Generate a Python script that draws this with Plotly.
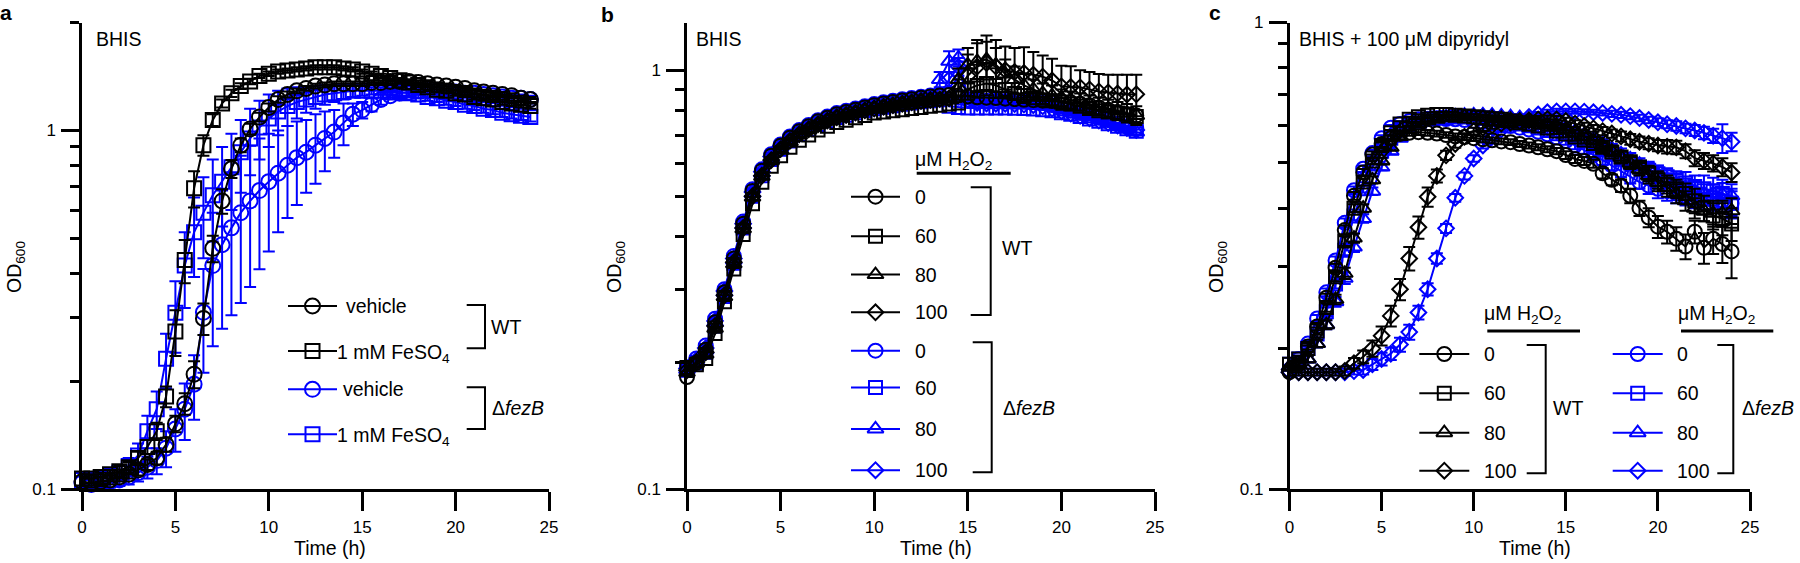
import plotly.graph_objects as go

# ---------------- data ----------------
TIME_H = [0, 0.5, 1, 1.5, 2, 2.5, 3, 3.5, 4, 4.5,
          5, 5.5, 6, 6.5, 7, 7.5, 8, 8.5, 9, 9.5,
          10, 10.5, 11, 11.5, 12, 12.5, 13, 13.5, 14, 14.5,
          15, 15.5, 16, 16.5, 17, 17.5, 18, 18.5, 19, 19.5,
          20, 20.5, 21, 21.5, 22, 22.5, 23, 23.5, 24]

X_TICKS = [0, 5, 10, 15, 20, 25]
Y_MAJOR = [0.1, 1]
Y_MAJOR_TEXT = ["0.1", "1"]

# Panel a (BHIS, FeSO4)
a_wt_veh = [0.105, 0.104, 0.105, 0.106, 0.108, 0.110, 0.113, 0.117, 0.122, 0.133,
            0.152, 0.173, 0.209, 0.299, 0.469, 0.636, 0.782, 0.910, 1.01, 1.09,
            1.16, 1.22, 1.26, 1.29, 1.31, 1.33, 1.34, 1.35, 1.35, 1.35,
            1.35, 1.36, 1.36, 1.37, 1.37, 1.37, 1.36, 1.35, 1.34, 1.33,
            1.32, 1.31, 1.29, 1.28, 1.27, 1.26, 1.25, 1.23, 1.22]
a_wt_fe = [0.107, 0.107, 0.108, 0.110, 0.112, 0.115, 0.122, 0.131, 0.145, 0.181,
           0.275, 0.435, 0.690, 0.910, 1.07, 1.19, 1.27, 1.33, 1.37, 1.42,
           1.44, 1.46, 1.47, 1.48, 1.49, 1.50, 1.50, 1.50, 1.49, 1.48,
           1.46, 1.44, 1.42, 1.40, 1.38, 1.36, 1.34, 1.32, 1.30, 1.29,
           1.27, 1.26, 1.24, 1.23, 1.22, 1.20, 1.19, 1.18, 1.17]
a_ko_veh = [0.104, 0.103, 0.104, 0.105, 0.106, 0.108, 0.111, 0.115, 0.120, 0.130,
            0.147, 0.167, 0.196, 0.311, 0.420, 0.480, 0.535, 0.590, 0.636, 0.680,
            0.720, 0.760, 0.800, 0.840, 0.870, 0.910, 0.950, 0.990, 1.05, 1.11,
            1.14, 1.18, 1.22, 1.25, 1.27, 1.28, 1.29, 1.29, 1.29, 1.28,
            1.28, 1.27, 1.27, 1.26, 1.25, 1.24, 1.23, 1.23, 1.22]
a_ko_fe = [0.106, 0.106, 0.107, 0.109, 0.111, 0.116, 0.124, 0.145, 0.167, 0.231,
           0.310, 0.420, 0.520, 0.590, 0.660, 0.720, 0.790, 0.870, 0.950, 1.02,
           1.08, 1.13, 1.17, 1.20, 1.22, 1.24, 1.26, 1.27, 1.28, 1.29,
           1.29, 1.29, 1.29, 1.29, 1.28, 1.27, 1.26, 1.24, 1.23, 1.21,
           1.20, 1.18, 1.17, 1.15, 1.14, 1.12, 1.11, 1.10, 1.09]
sd_a_wt_veh = [0.003, 0.003, 0.003, 0.003, 0.003, 0.003, 0.004, 0.004, 0.005, 0.006,
               0.008, 0.012, 0.018, 0.030, 0.040, 0.050, 0.045, 0.040, 0.035, 0.030,
               0.030, 0.025, 0.025, 0.020, 0.020, 0.020, 0.020, 0.020, 0.020, 0.020,
               0.020, 0.020, 0.020, 0.020, 0.020, 0.020, 0.020, 0.020, 0.020, 0.020,
               0.020, 0.020, 0.020, 0.020, 0.020, 0.020, 0.020, 0.020, 0.020]
sd_a_wt_fe = [0.003, 0.003, 0.003, 0.003, 0.004, 0.004, 0.005, 0.006, 0.008, 0.012,
              0.040, 0.060, 0.080, 0.060, 0.040, 0.030, 0.030, 0.025, 0.025, 0.020,
              0.020, 0.020, 0.020, 0.020, 0.020, 0.020, 0.020, 0.020, 0.020, 0.020,
              0.020, 0.020, 0.020, 0.020, 0.020, 0.020, 0.020, 0.020, 0.020, 0.020,
              0.020, 0.020, 0.020, 0.020, 0.020, 0.020, 0.020, 0.020, 0.020]
sd_a_ko_veh = [0.003, 0.003, 0.003, 0.004, 0.004, 0.005, 0.006, 0.008, 0.010, 0.015,
               0.020, 0.030, 0.040, 0.100, 0.170, 0.200, 0.230, 0.260, 0.270, 0.270,
               0.260, 0.240, 0.230, 0.220, 0.200, 0.200, 0.180, 0.150, 0.140, 0.080,
               0.060, 0.050, 0.040, 0.030, 0.030, 0.030, 0.030, 0.030, 0.030, 0.030,
               0.030, 0.030, 0.030, 0.030, 0.030, 0.030, 0.030, 0.030, 0.030]
sd_a_ko_fe = [0.003, 0.003, 0.003, 0.004, 0.005, 0.006, 0.010, 0.015, 0.020, 0.040,
              0.070, 0.100, 0.130, 0.150, 0.170, 0.180, 0.190, 0.200, 0.200, 0.190,
              0.180, 0.160, 0.140, 0.120, 0.100, 0.090, 0.080, 0.070, 0.060, 0.050,
              0.040, 0.030, 0.030, 0.030, 0.030, 0.030, 0.030, 0.030, 0.030, 0.030,
              0.030, 0.030, 0.030, 0.030, 0.030, 0.030, 0.030, 0.030, 0.030]

# Panel b (BHIS, H2O2)
b_wt0 = [0.185, 0.200, 0.215, 0.250, 0.295, 0.355, 0.430, 0.515, 0.575, 0.625,
         0.660, 0.690, 0.715, 0.735, 0.755, 0.770, 0.785, 0.795, 0.805, 0.815,
         0.825, 0.833, 0.840, 0.847, 0.853, 0.860, 0.865, 0.870, 0.873, 0.870,
         0.866, 0.862, 0.860, 0.858, 0.855, 0.853, 0.850, 0.848, 0.846, 0.844,
         0.842, 0.838, 0.832, 0.825, 0.815, 0.805, 0.795, 0.785, 0.780]
b_wt60 = [0.195, 0.198, 0.205, 0.235, 0.280, 0.335, 0.405, 0.480, 0.540, 0.590,
          0.625, 0.655, 0.680, 0.700, 0.720, 0.735, 0.750, 0.760, 0.770, 0.780,
          0.790, 0.795, 0.800, 0.805, 0.810, 0.815, 0.820, 0.825, 0.830, 0.835,
          0.900, 0.920, 0.930, 0.920, 0.900, 0.880, 0.870, 0.860, 0.850, 0.845,
          0.840, 0.830, 0.820, 0.810, 0.800, 0.795, 0.790, 0.785, 0.775]
b_wt80 = [0.190, 0.200, 0.210, 0.242, 0.288, 0.345, 0.418, 0.498, 0.558, 0.608,
          0.645, 0.675, 0.700, 0.720, 0.740, 0.755, 0.770, 0.780, 0.790, 0.800,
          0.808, 0.815, 0.822, 0.829, 0.835, 0.841, 0.846, 0.851, 0.855, 0.950,
          1.030, 1.050, 1.060, 1.030, 0.980, 0.950, 0.920, 0.900, 0.880, 0.870,
          0.860, 0.850, 0.840, 0.830, 0.820, 0.810, 0.800, 0.790, 0.780]
b_wt100 = [0.192, 0.201, 0.212, 0.245, 0.290, 0.348, 0.420, 0.500, 0.560, 0.610,
           0.648, 0.678, 0.703, 0.723, 0.743, 0.758, 0.772, 0.782, 0.792, 0.802,
           0.810, 0.818, 0.825, 0.832, 0.838, 0.844, 0.849, 0.853, 0.857, 0.900,
           0.970, 1.020, 1.040, 1.020, 1.000, 0.990, 0.985, 0.975, 0.965, 0.945,
           0.915, 0.912, 0.910, 0.900, 0.890, 0.885, 0.880, 0.875, 0.876]
b_ko0 = [0.195, 0.205, 0.220, 0.255, 0.300, 0.360, 0.435, 0.520, 0.580, 0.630,
         0.665, 0.695, 0.720, 0.740, 0.760, 0.775, 0.790, 0.800, 0.810, 0.820,
         0.830, 0.838, 0.845, 0.852, 0.858, 0.864, 0.870, 0.875, 0.878, 0.860,
         0.850, 0.848, 0.846, 0.845, 0.844, 0.843, 0.842, 0.840, 0.835, 0.825,
         0.810, 0.800, 0.790, 0.780, 0.770, 0.760, 0.745, 0.735, 0.725]
b_ko60 = [0.192, 0.200, 0.212, 0.245, 0.288, 0.346, 0.420, 0.500, 0.560, 0.612,
          0.648, 0.678, 0.702, 0.722, 0.742, 0.757, 0.771, 0.781, 0.791, 0.801,
          0.809, 0.816, 0.823, 0.829, 0.835, 0.841, 0.846, 0.850, 0.820, 0.815,
          0.812, 0.812, 0.812, 0.812, 0.812, 0.811, 0.810, 0.808, 0.805, 0.800,
          0.792, 0.785, 0.775, 0.765, 0.755, 0.745, 0.735, 0.725, 0.715]
b_ko80 = [0.193, 0.202, 0.215, 0.250, 0.295, 0.352, 0.427, 0.508, 0.568, 0.618,
          0.655, 0.685, 0.710, 0.730, 0.750, 0.765, 0.780, 0.790, 0.800, 0.810,
          0.818, 0.826, 0.833, 0.840, 0.846, 0.852, 0.858, 0.950, 1.050, 1.070,
          0.860, 0.845, 0.843, 0.842, 0.841, 0.840, 0.838, 0.835, 0.830, 0.820,
          0.805, 0.795, 0.785, 0.775, 0.763, 0.750, 0.738, 0.725, 0.712]
b_ko100 = [0.194, 0.203, 0.217, 0.252, 0.297, 0.355, 0.430, 0.512, 0.572, 0.622,
           0.658, 0.688, 0.712, 0.733, 0.753, 0.768, 0.782, 0.793, 0.803, 0.812,
           0.820, 0.828, 0.835, 0.842, 0.848, 0.854, 0.860, 0.866, 0.950, 1.020,
           0.850, 0.835, 0.833, 0.832, 0.831, 0.830, 0.828, 0.825, 0.820, 0.810,
           0.798, 0.788, 0.778, 0.768, 0.758, 0.748, 0.738, 0.728, 0.720]
sd_b_wt80 = [0.005, 0.005, 0.005, 0.006, 0.007, 0.008, 0.010, 0.010, 0.010, 0.010,
             0.010, 0.010, 0.010, 0.010, 0.010, 0.010, 0.010, 0.010, 0.010, 0.010,
             0.010, 0.010, 0.010, 0.010, 0.010, 0.010, 0.010, 0.010, 0.010, 0.060,
             0.100, 0.110, 0.110, 0.100, 0.080, 0.070, 0.060, 0.050, 0.050, 0.050,
             0.040, 0.040, 0.040, 0.040, 0.040, 0.040, 0.040, 0.040, 0.040]
sd_b_wt100 = [0.005, 0.005, 0.005, 0.006, 0.007, 0.008, 0.010, 0.010, 0.010, 0.010,
              0.010, 0.010, 0.010, 0.010, 0.010, 0.010, 0.010, 0.010, 0.010, 0.010,
              0.010, 0.010, 0.010, 0.010, 0.010, 0.010, 0.010, 0.010, 0.010, 0.050,
              0.120, 0.160, 0.170, 0.160, 0.140, 0.140, 0.150, 0.130, 0.120, 0.120,
              0.110, 0.110, 0.090, 0.090, 0.090, 0.090, 0.095, 0.100, 0.100]
sd_b_ko80 = [0.005, 0.005, 0.005, 0.006, 0.007, 0.008, 0.010, 0.010, 0.010, 0.010,
             0.010, 0.010, 0.010, 0.010, 0.010, 0.010, 0.010, 0.010, 0.010, 0.010,
             0.010, 0.010, 0.010, 0.010, 0.010, 0.010, 0.010, 0.040, 0.060, 0.050,
             0.020, 0.010, 0.010, 0.010, 0.010, 0.010, 0.010, 0.010, 0.010, 0.010,
             0.010, 0.010, 0.010, 0.010, 0.010, 0.010, 0.010, 0.010, 0.010]
sd_b_ko100 = [0.005, 0.005, 0.005, 0.006, 0.007, 0.008, 0.010, 0.010, 0.010, 0.010,
              0.010, 0.010, 0.010, 0.010, 0.010, 0.010, 0.010, 0.010, 0.010, 0.010,
              0.010, 0.010, 0.010, 0.010, 0.010, 0.010, 0.010, 0.010, 0.040, 0.050,
              0.020, 0.010, 0.010, 0.010, 0.010, 0.010, 0.010, 0.010, 0.010, 0.010,
              0.010, 0.010, 0.010, 0.010, 0.010, 0.010, 0.010, 0.010, 0.010]

# Panel c (BHIS + dipyridyl, H2O2)
c_wt0 = [0.178, 0.186, 0.202, 0.223, 0.257, 0.298, 0.359, 0.425, 0.477, 0.521,
         0.549, 0.565, 0.577, 0.580, 0.582, 0.580, 0.578, 0.574, 0.570, 0.568,
         0.565, 0.562, 0.559, 0.556, 0.554, 0.549, 0.545, 0.540, 0.535, 0.530,
         0.520, 0.510, 0.505, 0.498, 0.475, 0.460, 0.447, 0.425, 0.400, 0.382,
         0.365, 0.356, 0.344, 0.331, 0.356, 0.329, 0.344, 0.335, 0.323]
c_wt60 = [0.185, 0.190, 0.200, 0.218, 0.245, 0.285, 0.340, 0.400, 0.455, 0.505,
          0.545, 0.580, 0.606, 0.620, 0.628, 0.633, 0.635, 0.635, 0.633, 0.630,
          0.628, 0.625, 0.622, 0.620, 0.615, 0.610, 0.605, 0.600, 0.594, 0.585,
          0.577, 0.568, 0.560, 0.550, 0.540, 0.528, 0.515, 0.503, 0.490, 0.475,
          0.460, 0.450, 0.440, 0.430, 0.415, 0.400, 0.385, 0.380, 0.370]
c_wt80 = [0.183, 0.185, 0.190, 0.205, 0.225, 0.255, 0.290, 0.345, 0.400, 0.460,
          0.505, 0.540, 0.570, 0.590, 0.605, 0.615, 0.620, 0.625, 0.627, 0.628,
          0.628, 0.627, 0.625, 0.623, 0.620, 0.617, 0.613, 0.608, 0.603, 0.597,
          0.590, 0.580, 0.570, 0.558, 0.545, 0.530, 0.515, 0.500, 0.485, 0.470,
          0.455, 0.443, 0.430, 0.415, 0.400, 0.395, 0.390, 0.390, 0.395]
c_wt100 = [0.178, 0.178, 0.178, 0.178, 0.178, 0.178, 0.179, 0.186, 0.192, 0.200,
           0.213, 0.235, 0.268, 0.312, 0.364, 0.423, 0.469, 0.519, 0.549, 0.569,
           0.585, 0.595, 0.602, 0.607, 0.610, 0.614, 0.617, 0.620, 0.621, 0.620,
           0.615, 0.607, 0.600, 0.593, 0.585, 0.578, 0.570, 0.562, 0.555, 0.550,
           0.545, 0.542, 0.540, 0.530, 0.512, 0.505, 0.499, 0.490, 0.477]
c_ko0 = [0.180, 0.190, 0.205, 0.232, 0.264, 0.309, 0.372, 0.437, 0.486, 0.525,
         0.565, 0.595, 0.606, 0.615, 0.620, 0.622, 0.622, 0.621, 0.620, 0.618,
         0.615, 0.612, 0.608, 0.604, 0.600, 0.595, 0.590, 0.583, 0.576, 0.567,
         0.557, 0.545, 0.533, 0.520, 0.507, 0.494, 0.480, 0.467, 0.455, 0.447,
         0.440, 0.435, 0.430, 0.425, 0.420, 0.418, 0.415, 0.415, 0.410]
c_ko60 = [0.185, 0.190, 0.200, 0.215, 0.240, 0.275, 0.325, 0.385, 0.440, 0.490,
          0.530, 0.565, 0.590, 0.605, 0.615, 0.620, 0.624, 0.626, 0.627, 0.627,
          0.626, 0.624, 0.622, 0.619, 0.615, 0.611, 0.606, 0.600, 0.594, 0.587,
          0.578, 0.568, 0.557, 0.545, 0.533, 0.522, 0.510, 0.500, 0.490, 0.482,
          0.474, 0.467, 0.460, 0.453, 0.445, 0.440, 0.435, 0.430, 0.410]
c_ko80 = [0.183, 0.185, 0.190, 0.205, 0.225, 0.252, 0.283, 0.330, 0.380, 0.435,
          0.490, 0.530, 0.565, 0.590, 0.605, 0.615, 0.622, 0.627, 0.631, 0.633,
          0.634, 0.634, 0.633, 0.631, 0.628, 0.625, 0.621, 0.616, 0.610, 0.603,
          0.595, 0.585, 0.575, 0.563, 0.550, 0.537, 0.523, 0.510, 0.497, 0.485,
          0.473, 0.462, 0.452, 0.443, 0.435, 0.430, 0.430, 0.428, 0.425]
c_ko100 = [0.178, 0.178, 0.178, 0.178, 0.178, 0.178, 0.178, 0.179, 0.180, 0.185,
           0.190, 0.195, 0.204, 0.217, 0.239, 0.268, 0.312, 0.362, 0.421, 0.469,
           0.511, 0.545, 0.569, 0.590, 0.605, 0.617, 0.627, 0.635, 0.642, 0.645,
           0.645, 0.645, 0.644, 0.642, 0.640, 0.637, 0.634, 0.630, 0.624, 0.618,
           0.611, 0.605, 0.600, 0.593, 0.587, 0.580, 0.572, 0.565, 0.555]
sd_c_wt0 = [0.003, 0.003, 0.003, 0.004, 0.005, 0.006, 0.008, 0.008, 0.008, 0.008,
            0.008, 0.008, 0.008, 0.008, 0.008, 0.008, 0.008, 0.008, 0.008, 0.008,
            0.008, 0.008, 0.008, 0.008, 0.008, 0.008, 0.008, 0.008, 0.008, 0.008,
            0.010, 0.010, 0.010, 0.010, 0.012, 0.012, 0.014, 0.015, 0.015, 0.018,
            0.020, 0.020, 0.020, 0.020, 0.020, 0.025, 0.025, 0.030, 0.040]
sd_c_wt60 = [0.003, 0.003, 0.003, 0.004, 0.005, 0.006, 0.008, 0.008, 0.008, 0.008,
             0.008, 0.008, 0.008, 0.008, 0.008, 0.008, 0.008, 0.008, 0.008, 0.008,
             0.008, 0.008, 0.008, 0.008, 0.008, 0.008, 0.008, 0.008, 0.008, 0.008,
             0.010, 0.010, 0.010, 0.010, 0.012, 0.012, 0.014, 0.015, 0.015, 0.018,
             0.020, 0.020, 0.020, 0.022, 0.025, 0.025, 0.025, 0.030, 0.030]
sd_c_wt80 = [0.003, 0.003, 0.003, 0.004, 0.005, 0.006, 0.008, 0.008, 0.008, 0.008,
             0.008, 0.008, 0.008, 0.008, 0.008, 0.008, 0.008, 0.008, 0.008, 0.008,
             0.008, 0.008, 0.008, 0.008, 0.008, 0.008, 0.008, 0.008, 0.008, 0.008,
             0.010, 0.010, 0.010, 0.010, 0.012, 0.012, 0.014, 0.015, 0.015, 0.018,
             0.020, 0.020, 0.020, 0.020, 0.020, 0.020, 0.025, 0.025, 0.025]
sd_c_wt100 = [0.003, 0.003, 0.003, 0.003, 0.003, 0.003, 0.004, 0.005, 0.006, 0.008,
              0.010, 0.012, 0.014, 0.018, 0.020, 0.020, 0.015, 0.012, 0.010, 0.010,
              0.010, 0.010, 0.010, 0.010, 0.010, 0.010, 0.010, 0.010, 0.010, 0.010,
              0.010, 0.010, 0.010, 0.010, 0.012, 0.012, 0.014, 0.015, 0.015, 0.015,
              0.015, 0.018, 0.018, 0.018, 0.020, 0.020, 0.020, 0.022, 0.022]
sd_c_ko0 = [0.003, 0.003, 0.003, 0.004, 0.005, 0.006, 0.008, 0.008, 0.008, 0.008,
            0.008, 0.008, 0.008, 0.008, 0.008, 0.008, 0.008, 0.008, 0.008, 0.008,
            0.008, 0.008, 0.008, 0.008, 0.008, 0.008, 0.008, 0.008, 0.008, 0.008,
            0.010, 0.010, 0.010, 0.010, 0.012, 0.012, 0.014, 0.015, 0.015, 0.018,
            0.020, 0.020, 0.020, 0.020, 0.020, 0.020, 0.020, 0.025, 0.025]
sd_c_ko60 = [0.003, 0.003, 0.003, 0.004, 0.005, 0.006, 0.008, 0.008, 0.008, 0.008,
             0.008, 0.008, 0.008, 0.008, 0.008, 0.008, 0.008, 0.008, 0.008, 0.008,
             0.008, 0.008, 0.008, 0.008, 0.008, 0.008, 0.008, 0.008, 0.008, 0.008,
             0.010, 0.010, 0.010, 0.010, 0.012, 0.012, 0.014, 0.015, 0.015, 0.018,
             0.020, 0.020, 0.020, 0.025, 0.025, 0.030, 0.030, 0.030, 0.030]
sd_c_ko80 = [0.003, 0.003, 0.003, 0.004, 0.005, 0.006, 0.008, 0.008, 0.008, 0.008,
             0.008, 0.008, 0.008, 0.008, 0.008, 0.008, 0.008, 0.008, 0.008, 0.008,
             0.008, 0.008, 0.008, 0.008, 0.008, 0.008, 0.008, 0.008, 0.008, 0.008,
             0.010, 0.010, 0.010, 0.010, 0.012, 0.012, 0.014, 0.015, 0.015, 0.018,
             0.020, 0.020, 0.020, 0.020, 0.020, 0.020, 0.020, 0.025, 0.025]
sd_c_ko100 = [0.003, 0.003, 0.003, 0.003, 0.003, 0.003, 0.003, 0.003, 0.004, 0.005,
              0.006, 0.006, 0.007, 0.008, 0.008, 0.008, 0.008, 0.008, 0.008, 0.008,
              0.008, 0.008, 0.008, 0.008, 0.008, 0.008, 0.008, 0.008, 0.008, 0.008,
              0.008, 0.008, 0.008, 0.008, 0.008, 0.010, 0.010, 0.010, 0.010, 0.010,
              0.012, 0.012, 0.014, 0.014, 0.016, 0.018, 0.020, 0.040, 0.025]

for _arr in [a_wt_veh, a_wt_fe, a_ko_veh, a_ko_fe, sd_a_wt_veh, sd_a_wt_fe, sd_a_ko_veh, sd_a_ko_fe,
             b_wt0, b_wt60, b_wt80, b_wt100, b_ko0, b_ko60, b_ko80, b_ko100,
             sd_b_wt80, sd_b_wt100, sd_b_ko80, sd_b_ko100,
             c_wt0, c_wt60, c_wt80, c_wt100, c_ko0, c_ko60, c_ko80, c_ko100,
             sd_c_wt0, sd_c_wt60, sd_c_wt80, sd_c_wt100, sd_c_ko0, sd_c_ko60, sd_c_ko80, sd_c_ko100]:
    assert len(_arr) == len(TIME_H)

# ---------------- styling ----------------
BLACK = "#000000"
BLUE = "#0000ff"
FONT = "Liberation Sans, Arial, Helvetica, sans-serif"
FS = 19.5      # label / legend text
FT = 17        # tick labels
W, H = 1800, 563


def dom_x(x0, x1):
    return [x0 / W, x1 / W]


Y_DOM = [(H - 489) / H, (H - 22.5) / H]

fig = go.Figure()


def add_series(y, sd, color, symbol, size, xa, ya):
    err = dict(type="data", array=sd, visible=True, color=color, thickness=2, width=6) if sd is not None else dict(visible=False)
    fig.add_trace(go.Scatter(
        x=TIME_H, y=y, mode="lines+markers", xaxis=xa, yaxis=ya,
        line=dict(color=color, width=2),
        marker=dict(symbol=symbol + "-open", size=size, color=color, line=dict(width=2, color=color)),
        error_y=err, cliponaxis=False, showlegend=False, hoverinfo="skip"))


# Panel a (WT drawn on top)
add_series(a_ko_fe, sd_a_ko_fe, BLUE, "square", 14, "x", "y")
add_series(a_ko_veh, sd_a_ko_veh, BLUE, "circle", 15, "x", "y")
add_series(a_wt_fe, sd_a_wt_fe, BLACK, "square", 14, "x", "y")
add_series(a_wt_veh, sd_a_wt_veh, BLACK, "circle", 15, "x", "y")

# Panel b
add_series(b_ko100, sd_b_ko100, BLUE, "diamond", 12, "x2", "y2")
add_series(b_ko80, sd_b_ko80, BLUE, "triangle-up", 14, "x2", "y2")
add_series(b_ko60, None, BLUE, "square", 13, "x2", "y2")
add_series(b_ko0, None, BLUE, "circle", 14, "x2", "y2")
add_series(b_wt100, sd_b_wt100, BLACK, "diamond", 12, "x2", "y2")
add_series(b_wt80, sd_b_wt80, BLACK, "triangle-up", 14, "x2", "y2")
add_series(b_wt60, None, BLACK, "square", 13, "x2", "y2")
add_series(b_wt0, None, BLACK, "circle", 14, "x2", "y2")

# Panel c
add_series(c_ko100, sd_c_ko100, BLUE, "diamond", 12, "x3", "y3")
add_series(c_ko80, sd_c_ko80, BLUE, "triangle-up", 14, "x3", "y3")
add_series(c_ko60, sd_c_ko60, BLUE, "square", 13, "x3", "y3")
add_series(c_ko0, sd_c_ko0, BLUE, "circle", 14, "x3", "y3")
add_series(c_wt100, sd_c_wt100, BLACK, "diamond", 12, "x3", "y3")
add_series(c_wt80, sd_c_wt80, BLACK, "triangle-up", 14, "x3", "y3")
add_series(c_wt60, sd_c_wt60, BLACK, "square", 13, "x3", "y3")
add_series(c_wt0, sd_c_wt0, BLACK, "circle", 14, "x3", "y3")

# ---------------- legend samples on an overlay pixel axis ----------------
def legend_sample(x1, x2, y, color, symbol, size):
    fig.add_trace(go.Scatter(x=[x1, x2], y=[y, y], mode="lines", xaxis="x4", yaxis="y4",
                             line=dict(color=color, width=2), showlegend=False, hoverinfo="skip"))
    fig.add_trace(go.Scatter(x=[(x1 + x2) / 2], y=[y], mode="markers", xaxis="x4", yaxis="y4",
                             marker=dict(symbol=symbol + "-open", size=size, color=color, line=dict(width=2, color=color)),
                             showlegend=False, hoverinfo="skip"))


annotations = []
shapes = []


def text(x, y, s, size=FS, xanchor="left", angle=0, bold=False):
    annotations.append(dict(x=x, y=y, xref="x4", yref="y4", text=("<b>%s</b>" % s) if bold else s,
                            showarrow=False, xanchor=xanchor, yanchor="middle", textangle=angle,
                            borderpad=0, borderwidth=0,
                            font=dict(family=FONT, size=size, color="black")))


def bracket(x0, x1, y0, y1):
    shapes.append(dict(type="path", xref="x4", yref="y4",
                       path="M%.1f,%.1f H%.1f V%.1f H%.1f" % (x0, y0, x1, y1, x0),
                       line=dict(color="black", width=2)))


def hline(x0, x1, y, w=3):
    shapes.append(dict(type="line", xref="x4", yref="y4", x0=x0, x1=x1, y0=y, y1=y,
                       line=dict(color="black", width=w)))


DFEZB = "Δ<i>fezB</i>"
H2O2 = "μM H<sub>2</sub>O<sub>2</sub>"

# panel a legend
rows_a = [306, 351, 389.3, 434.3]
legend_sample(288, 337, rows_a[0], BLACK, "circle", 15)
legend_sample(288, 337, rows_a[1], BLACK, "square", 14)
legend_sample(288, 337, rows_a[2], BLUE, "circle", 15)
legend_sample(288, 337, rows_a[3], BLUE, "square", 14)
text(346, rows_a[0], "vehicle")
text(337, rows_a[1] + 2, "1 mM FeSO<sub>4</sub>")
text(343, rows_a[2], "vehicle")
text(337, rows_a[3] + 2, "1 mM FeSO<sub>4</sub>")
bracket(466.7, 485, 305, 348.3)
bracket(466.7, 485, 387.3, 429)
text(491, 327, "WT")
text(492, 408, DFEZB)

# panel b legend
rows_b = [196.7, 236.2, 274.6, 312.3, 350.7, 387.6, 428.9, 470.2]
sym4 = ["circle", "square", "triangle-up", "diamond"]
sz4 = [14, 13, 14, 12]
lab4 = ["0", "60", "80", "100"]
for i in range(8):
    col = BLACK if i < 4 else BLUE
    legend_sample(851, 900, rows_b[i], col, sym4[i % 4], sz4[i % 4])
    text(915, rows_b[i], lab4[i % 4])
text(915, 160, H2O2)
hline(916.7, 1010.7, 173.3)
bracket(970.7, 990.7, 187.3, 315)
bracket(972.7, 991.7, 342.3, 472.3)
text(1002, 248, "WT")
text(1003, 408, DFEZB)

# panel c legends
rows_c = [354, 393.3, 432.7, 470.7]
for i in range(4):
    legend_sample(1419.3, 1469.3, rows_c[i], BLACK, sym4[i], sz4[i])
    text(1484, rows_c[i], lab4[i])
    legend_sample(1612.7, 1662.7, rows_c[i], BLUE, sym4[i], sz4[i])
    text(1677, rows_c[i], lab4[i])
text(1484, 314, H2O2)
text(1678, 314, H2O2)
hline(1487.3, 1580, 331)
hline(1681, 1773.3, 331)
bracket(1526.7, 1545.7, 345, 473.3)
bracket(1717.3, 1733.3, 345, 473.3)
text(1553, 408, "WT")
text(1742, 408, DFEZB)

# panel labels, media labels, axis titles
text(0, 12, "a", size=21, bold=True)
text(601, 14, "b", size=21, bold=True)
text(1209, 12, "c", size=21, bold=True)
text(96, 39, "BHIS")
text(696, 39, "BHIS")
text(1299, 39, "BHIS + 100 μM dipyridyl")
for xc in [15, 615, 1217]:
    text(xc, 267, "OD<sub>600</sub>", xanchor="center", angle=-90)
for xc in [330, 936, 1535]:
    text(xc, 548, "Time (h)", xanchor="center")

# ---------------- axes ----------------
def xaxis_def(x0, x1, anchor):
    return dict(domain=dom_x(x0, x1), anchor=anchor, range=[0, 25], tickmode="array", tickvals=X_TICKS,
                ticks="outside", ticklen=19, tickwidth=2.5, tickcolor="black", ticklabelstandoff=2,
                showline=True, linewidth=2.5, linecolor="black", showgrid=False, zeroline=False,
                automargin=False,
                tickfont=dict(family=FONT, size=FT, color="black"), fixedrange=True)


def yaxis_def(anchor, top, minor_vals):
    return dict(domain=Y_DOM, anchor=anchor, type="log", range=[-1, top], tickmode="array",
                tickvals=Y_MAJOR, ticktext=Y_MAJOR_TEXT,
                ticks="outside", ticklen=18, tickwidth=2.5, tickcolor="black", ticklabelstandoff=2,
                minor=dict(tickmode="array", tickvals=minor_vals, ticks="outside", ticklen=9,
                           tickwidth=2.5, tickcolor="black", showgrid=False),
                showline=True, linewidth=2.5, linecolor="black", showgrid=False, zeroline=False,
                automargin=False,
                tickfont=dict(family=FONT, size=FT, color="black"), fixedrange=True)


MINOR = [0.2, 0.3, 0.4, 0.5, 0.6, 0.7, 0.8, 0.9]

fig.update_layout(
    template="none",
    width=W, height=H, margin=dict(l=0, r=0, t=0, b=0, pad=0, autoexpand=False),
    paper_bgcolor="white", plot_bgcolor="rgba(0,0,0,0)",
    showlegend=False, hovermode=False,
    xaxis=xaxis_def(82, 549, "y"),
    yaxis=yaxis_def("x", 0.3012, MINOR + [2]),
    xaxis2=xaxis_def(687, 1155, "y2"),
    yaxis2=yaxis_def("x2", 0.11394, MINOR),
    xaxis3=xaxis_def(1289.5, 1750, "y3"),
    yaxis3=yaxis_def("x3", 0.0, MINOR),
    xaxis4=dict(domain=[0, 1], anchor="y4", range=[0, W], visible=False, fixedrange=True, automargin=False),
    yaxis4=dict(domain=[0, 1], anchor="x4", range=[H, 0], visible=False, fixedrange=True, automargin=False),
    annotations=annotations, shapes=shapes,
    font=dict(family=FONT, size=FS, color="black"),
)

fig.write_html("out.html", config={"responsive": False, "displayModeBar": False},
               post_script="document.body.style.margin='0';document.body.style.overflow='hidden';")
